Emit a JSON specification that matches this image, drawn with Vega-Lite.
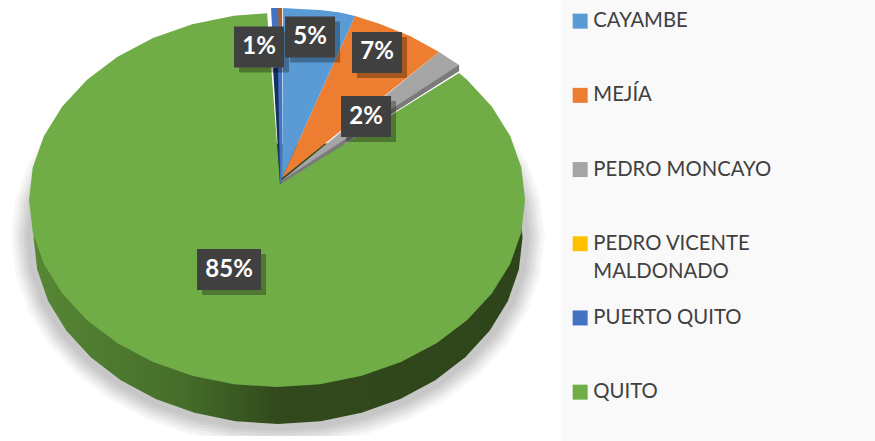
{"$schema":"https://vega.github.io/schema/vega-lite/v6.json","width":875,"height":441,"autosize":{"type":"none"},"padding":0,"background":"#ffffff","view":{"stroke":null},"config":{"style":{"guide-label":{"lineHeight":28}}},
"datasets":{
"rim":[{"k":1,"u":0.858,"v":0.302},{"k":2,"u":0.931,"v":0.144},{"k":3,"u":0.975,"v":-0.024},{"k":4,"u":0.99,"v":-0.198},{"k":5,"u":0.975,"v":-0.372},{"k":6,"u":0.931,"v":-0.54},{"k":7,"u":0.858,"v":-0.698},{"k":8,"u":0.759,"v":-0.841},{"k":9,"u":0.638,"v":-0.964},{"k":10,"u":0.497,"v":-1.064},{"k":11,"u":0.341,"v":-1.138},{"k":12,"u":0.176,"v":-1.183},{"k":13,"u":0.004,"v":-1.198},{"k":14,"u":-0.168,"v":-1.183},{"k":15,"u":-0.333,"v":-1.138},{"k":16,"u":-0.489,"v":-1.064},{"k":17,"u":-0.63,"v":-0.964},{"k":18,"u":-0.751,"v":-0.841},{"k":19,"u":-0.85,"v":-0.698},{"k":20,"u":-0.923,"v":-0.54},{"k":21,"u":-0.967,"v":-0.372},{"k":22,"u":-0.982,"v":-0.198},{"k":23,"u":-0.967,"v":-0.024},{"k":24,"u":-0.923,"v":0.144},{"k":25,"u":-0.85,"v":0.302}],
"slices":[
{"canton":"QUITO","k":0,"u":0.0121,"v":0.0856},{"canton":"QUITO","k":1,"u":0.734,"v":0.679},{"canton":"QUITO","k":2,"u":0.766,"v":0.643},{"canton":"QUITO","k":3,"u":0.866,"v":0.5},{"canton":"QUITO","k":4,"u":0.94,"v":0.342},{"canton":"QUITO","k":5,"u":0.985,"v":0.174},{"canton":"QUITO","k":6,"u":1,"v":0},{"canton":"QUITO","k":7,"u":0.985,"v":-0.174},{"canton":"QUITO","k":8,"u":0.94,"v":-0.342},{"canton":"QUITO","k":9,"u":0.866,"v":-0.5},{"canton":"QUITO","k":10,"u":0.766,"v":-0.643},{"canton":"QUITO","k":11,"u":0.643,"v":-0.766},{"canton":"QUITO","k":12,"u":0.5,"v":-0.866},{"canton":"QUITO","k":13,"u":0.342,"v":-0.94},{"canton":"QUITO","k":14,"u":0.174,"v":-0.985},{"canton":"QUITO","k":15,"u":0,"v":-1},{"canton":"QUITO","k":16,"u":-0.174,"v":-0.985},{"canton":"QUITO","k":17,"u":-0.342,"v":-0.94},{"canton":"QUITO","k":18,"u":-0.5,"v":-0.866},{"canton":"QUITO","k":19,"u":-0.643,"v":-0.766},{"canton":"QUITO","k":20,"u":-0.766,"v":-0.643},{"canton":"QUITO","k":21,"u":-0.866,"v":-0.5},{"canton":"QUITO","k":22,"u":-0.94,"v":-0.342},{"canton":"QUITO","k":23,"u":-0.985,"v":-0.174},{"canton":"QUITO","k":24,"u":-1,"v":0},{"canton":"QUITO","k":25,"u":-0.985,"v":0.174},{"canton":"QUITO","k":26,"u":-0.94,"v":0.342},{"canton":"QUITO","k":27,"u":-0.866,"v":0.5},{"canton":"QUITO","k":28,"u":-0.766,"v":0.643},{"canton":"QUITO","k":29,"u":-0.643,"v":0.766},{"canton":"QUITO","k":30,"u":-0.5,"v":0.866},{"canton":"QUITO","k":31,"u":-0.342,"v":0.94},{"canton":"QUITO","k":32,"u":-0.174,"v":0.985},{"canton":"QUITO","k":33,"u":-0.04,"v":0.999},
{"canton":"PEDRO MONCAYO","k":0,"u":0.0161,"v":0.1016},{"canton":"PEDRO MONCAYO","k":1,"u":0.6532,"v":0.7914},{"canton":"PEDRO MONCAYO","k":2,"u":0.7339,"v":0.7219},{"canton":"PEDRO MONCAYO","k":3,"u":0.7339,"v":0.6898},{"canton":"PEDRO MONCAYO","k":4,"u":0.0161,"v":0.0856},
{"canton":"MEJÍA","k":0,"u":0.0202,"v":0.1176},{"canton":"MEJÍA","k":1,"u":0.3145,"v":0.984},{"canton":"MEJÍA","k":2,"u":0.4153,"v":0.9412},{"canton":"MEJÍA","k":3,"u":0.5363,"v":0.877},{"canton":"MEJÍA","k":4,"u":0.6532,"v":0.7914},
{"canton":"PUERTO QUITO","k":0,"u":-0.0242,"v":1.0267},{"canton":"PUERTO QUITO","k":1,"u":0.0202,"v":1.0267},{"canton":"PUERTO QUITO","k":2,"u":0.0202,"v":0.1176},{"canton":"PUERTO QUITO","k":3,"u":0.0121,"v":0.0856},
{"canton":"CAYAMBE","k":0,"u":0.0202,"v":0.1176},{"canton":"CAYAMBE","k":1,"u":0.0242,"v":1.0267},{"canton":"CAYAMBE","k":2,"u":0.0927,"v":1.0214},{"canton":"CAYAMBE","k":3,"u":0.1734,"v":1.016},{"canton":"CAYAMBE","k":4,"u":0.254,"v":1.0027},{"canton":"CAYAMBE","k":5,"u":0.3145,"v":0.984}
],
"labels":[{"canton":"PUERTO QUITO","pct":1,"label":"1%","u":-0.0726,"v":0.818},{"canton":"CAYAMBE","pct":5,"label":"5%","u":0.1331,"v":0.8717},{"canton":"MEJÍA","pct":7,"label":"7%","u":0.4032,"v":0.7888},{"canton":"PEDRO MONCAYO","pct":2,"label":"2%","u":0.3589,"v":0.4465},{"canton":"QUITO","pct":85,"label":"85%","u":-0.1935,"v":-0.3717}]
},
"encoding":{"x":{"field":"u","type":"quantitative","axis":null,"scale":{"domain":[-1.117,2.411],"nice":false,"zero":false}},"y":{"field":"v","type":"quantitative","axis":null,"scale":{"domain":[-1.2888,1.0695],"nice":false,"zero":false}}},
"layer":[
{"data":{"name":"rim"},"mark":{"type":"line","stroke":"#2a2a30","strokeWidth":44,"opacity":0.04},"encoding":{"order":{"field":"k"}}},
{"data":{"name":"rim"},"mark":{"type":"line","stroke":"#2a2a30","strokeWidth":38,"opacity":0.04},"encoding":{"order":{"field":"k"}}},
{"data":{"name":"rim"},"mark":{"type":"line","stroke":"#2a2a30","strokeWidth":32,"opacity":0.05},"encoding":{"order":{"field":"k"}}},
{"data":{"name":"rim"},"mark":{"type":"line","stroke":"#2a2a30","strokeWidth":26,"opacity":0.05},"encoding":{"order":{"field":"k"}}},
{"data":{"name":"rim"},"mark":{"type":"line","stroke":"#2a2a30","strokeWidth":20,"opacity":0.05},"encoding":{"order":{"field":"k"}}},
{"data":{"name":"rim"},"mark":{"type":"line","stroke":"#2a2a30","strokeWidth":14,"opacity":0.05},"encoding":{"order":{"field":"k"}}},
{"data":{"values":[{"u":-1.117,"u2":1.1452,"v":-1.2888,"v2":-1.262}]},"mark":{"type":"rect","fill":"#ffffff"},"encoding":{"x2":{"field":"u2"},"y2":{"field":"v2"}}},
{"data":{"values":[{"u":1.1452,"u2":2.411,"v":-1.2888,"v2":1.0695}]},"mark":{"type":"rect","fill":"#f9f9f9"},"encoding":{"x2":{"field":"u2"},"y2":{"field":"v2"}}},
{"data":{"name":"rim"},"mark":{"type":"line","filled":true,"strokeWidth":0,"color":{"gradient":"linear","x1":0,"x2":1,"y1":0,"y2":0,"stops":[{"offset":0,"color":"#568735"},{"offset":0.3,"color":"#466e2a"},{"offset":0.5,"color":"#31491c"},{"offset":1,"color":"#2e451b"}]}},"encoding":{"order":{"field":"k"}}},
{"data":{"name":"slices"},"mark":{"type":"line","filled":true,"strokeWidth":0},"encoding":{"order":{"field":"k"},"color":{"field":"canton","type":"nominal","scale":{"domain":["CAYAMBE","MEJÍA","PEDRO MONCAYO","PEDRO VICENTE MALDONADO","PUERTO QUITO","QUITO"],"range":["#5B9BD5","#ED7D31","#A5A5A5","#FFC000","#4472C4","#70AD47"]},"legend":{"title":null,"orient":"none","legendX":570,"legendY":11,"symbolType":"square","symbolSize":225,"symbolStrokeWidth":0,"symbolOpacity":1,"labelFont":"Lato","labelFontSize":20.3,"labelColor":"#404040","labelOffset":3,"labelLimit":300,"gridAlign":"all","rowPadding":25.2,"padding":0,"labelExpr":"datum.label=='PEDRO VICENTE MALDONADO'?['PEDRO VICENTE','MALDONADO']:datum.label","encoding":{"labels":{"update":{"dy":{"signal":"datum.value=='PEDRO VICENTE MALDONADO'?15:1"}}}}}}}},
{"data":{"values":[{"k":0,"u":0.0161,"v":0.0856},{"k":1,"u":0.7339,"v":0.6898},{"k":2,"u":0.7339,"v":0.7219},{"k":3,"u":0.0161,"v":0.1016}]},"mark":{"type":"line","filled":true,"strokeWidth":0,"color":"#7a7a7a"},"encoding":{"order":{"field":"k"}}},
{"data":{"values":[{"k":0,"u":0.004,"v":1.0267},{"k":1,"u":0.0202,"v":1.0267},{"k":2,"u":0.0202,"v":0.93},{"k":3,"u":0.006,"v":0.93}]},"mark":{"type":"line","filled":true,"strokeWidth":0,"color":"#a85f2a"},"encoding":{"order":{"field":"k"}}},
{"data":{"values":[{"k":0,"u":-0.0161,"v":0.7059},{"k":1,"u":0.004,"v":0.7059},{"k":2,"u":0.0121,"v":0.0856}]},"mark":{"type":"line","filled":true,"strokeWidth":0,"color":"#12325f"},"encoding":{"order":{"field":"k"}}},
{"data":{"name":"labels"},"transform":[{"filter":"datum.pct<10"}],"mark":{"type":"rect","width":50,"height":41,"fill":"#000000","opacity":0.3,"xOffset":5,"yOffset":5}},
{"data":{"name":"labels"},"transform":[{"filter":"datum.pct>=10"}],"mark":{"type":"rect","width":64,"height":41,"fill":"#000000","opacity":0.3,"xOffset":5,"yOffset":5}},
{"data":{"name":"labels"},"transform":[{"filter":"datum.pct<10"}],"mark":{"type":"rect","width":50,"height":41,"fill":"#404040"}},
{"data":{"name":"labels"},"transform":[{"filter":"datum.pct>=10"}],"mark":{"type":"rect","width":64,"height":41,"fill":"#404040"}},
{"data":{"name":"labels"},"mark":{"type":"text","font":"Lato","fontWeight":"bold","fontSize":24,"color":"#ffffff","baseline":"middle","align":"center"},"encoding":{"text":{"field":"label"}}}
]}
